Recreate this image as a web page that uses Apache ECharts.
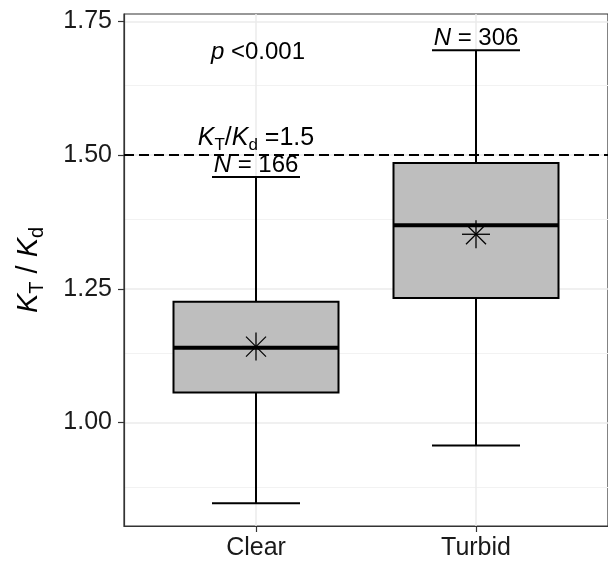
<!DOCTYPE html>
<html>
<head>
<meta charset="utf-8">
<script src="https://cdn.jsdelivr.net/npm/echarts@6/dist/echarts.min.js"></script>
<style>
  html, body { margin: 0; padding: 0; background: #ffffff; }
  #chart { width: 608px; height: 562px; }
</style>
</head>
<body>
<div id="chart"></div>
<script>
// Box-plot summary of the KT/Kd ratio for clear and turbid water
const categories = ['Clear', 'Turbid'];
const lowerWhisker = [0.849, 0.957];
const lowerQuartile = [1.056, 1.233];
const medianValue = [1.140, 1.369];
const upperQuartile = [1.226, 1.485];
const upperWhisker = [1.459, 1.696];
const meanValue = [1.142, 1.352];
const sampleSize = [166, 306];
const ratioThreshold = 1.5;
const yTickValues = [1.00, 1.25, 1.50, 1.75];
const yMinorValues = [0.875, 1.125, 1.375, 1.625];
const pValueText = '<0.001';

const FONT = '"Liberation Sans", Arial, Helvetica, sans-serif';
const BOX_WIDTH = 0.75;
const CAP_WIDTH = 0.4;
const INK = '#000000';

const boxRows = categories.map((c, i) => [
  i + 1, lowerWhisker[i], lowerQuartile[i], medianValue[i],
  upperQuartile[i], upperWhisker[i], meanValue[i], sampleSize[i]
]);

function line(x1, y1, x2, y2, w) {
  return {
    type: 'line',
    shape: { x1, y1, x2, y2 },
    style: { stroke: INK, lineWidth: w, lineCap: 'butt' }
  };
}

function renderBox(params, api) {
  const x = api.value(0);
  const lw = api.coord([x, api.value(1)]);
  const q1 = api.coord([x, api.value(2)]);
  const md = api.coord([x, api.value(3)]);
  const q3 = api.coord([x, api.value(4)]);
  const uw = api.coord([x, api.value(5)]);
  const mn = api.coord([x, api.value(6)]);
  const n = api.value(7);
  const boxHalf = api.size([BOX_WIDTH / 2, 0])[0];
  const capHalf = api.size([CAP_WIDTH / 2, 0])[0];
  const cx = md[0];

  const children = [
    // whiskers and caps
    line(cx, uw[1], cx, q3[1], 2),
    line(cx, q1[1], cx, lw[1], 2),
    line(cx - capHalf, uw[1], cx + capHalf, uw[1], 2),
    line(cx - capHalf, lw[1], cx + capHalf, lw[1], 2),
    // box
    {
      type: 'rect',
      shape: { x: cx - boxHalf, y: q3[1], width: boxHalf * 2, height: q1[1] - q3[1] },
      style: { fill: '#BEBEBE', stroke: INK, lineWidth: 2 }
    },
    // median
    line(cx - boxHalf, md[1], cx + boxHalf, md[1], 4)
  ];

  // mean marker (asterisk)
  const r = 14, d = 10;
  const sw = 1.3;
  children.push(
    line(mn[0], mn[1] - r, mn[0], mn[1] + r, sw),
    line(mn[0] - r, mn[1], mn[0] + r, mn[1], sw),
    line(mn[0] - d, mn[1] - d, mn[0] + d, mn[1] + d, sw),
    line(mn[0] - d, mn[1] + d, mn[0] + d, mn[1] - d, sw)
  );

  // sample size above the upper cap
  children.push({
    type: 'text',
    x: cx,
    y: uw[1] - 12,
    style: {
      text: '{i|N}{n| = ' + n + '}',
      align: 'center',
      verticalAlign: 'middle',
      rich: {
        i: { fontFamily: FONT, fontSize: 24, fontStyle: 'italic', fill: INK },
        n: { fontFamily: FONT, fontSize: 24, fill: INK }
      }
    }
  });

  return { type: 'group', children };
}

function renderNotes(params, api) {
  const topVal = Math.max.apply(null, upperWhisker);
  const pPos = api.coord([1, topVal]);
  const tPos = api.coord([1, ratioThreshold]);
  return {
    type: 'group',
    children: [
      {
        type: 'text',
        x: pPos[0] + 2,
        y: pPos[1] + 2,
        style: {
          text: '{i|p}{n| ' + pValueText + '}',
          align: 'center',
          verticalAlign: 'middle',
          rich: {
            i: { fontFamily: FONT, fontSize: 24, fontStyle: 'italic', fill: INK },
            n: { fontFamily: FONT, fontSize: 24, fill: INK }
          }
        }
      },
      {
        type: 'text',
        x: tPos[0],
        y: tPos[1] - 17,
        style: {
          text: '{k|K}{s|T}{n|/}{k|K}{s|d}{n| =' + ratioThreshold.toFixed(1) + '}',
          align: 'center',
          verticalAlign: 'middle',
          rich: {
            k: { fontFamily: FONT, fontSize: 25, fontStyle: 'italic', fill: INK, lineHeight: 32 },
            n: { fontFamily: FONT, fontSize: 25, fill: INK, lineHeight: 32 },
            s: { fontFamily: FONT, fontSize: 17, fill: INK, lineHeight: 17, verticalAlign: 'bottom' }
          }
        }
      }
    ]
  };
}

const majorGrid = { color: '#EBEBEB', width: 1.5, type: 'solid' };
const minorGrid = { color: '#F2F2F2', width: 1, type: 'solid' };

const gridLines = []
  .concat(yMinorValues.map(v => ({ yAxis: v, lineStyle: minorGrid })))
  .concat(yTickValues.map(v => ({ yAxis: v, lineStyle: majorGrid })))
  .concat(categories.map((c, i) => ({ xAxis: i + 1, lineStyle: majorGrid })));

const chart = echarts.init(document.getElementById('chart'), null, { renderer: 'canvas' });

chart.setOption({
  animation: false,
  backgroundColor: '#ffffff',
  grid: {
    left: 124, top: 14, width: 497, height: 512,
    show: true, borderColor: '#333333', borderWidth: 1.2, backgroundColor: 'transparent'
  },
  xAxis: {
    type: 'value',
    min: 0.4, max: 2.6,
    axisLine: { show: true, lineStyle: { color: '#333333', width: 1.2 } },
    axisTick: { show: true, customValues: [1, 2], length: 6, lineStyle: { color: '#333333', width: 1.2 } },
    axisLabel: {
      customValues: [1, 2],
      formatter: v => categories[Math.round(v) - 1] || '',
      fontFamily: FONT, fontSize: 25, color: '#1a1a1a', margin: 10
    },
    splitLine: { show: false }
  },
  yAxis: {
    type: 'value',
    min: 0.8067, max: 1.7637,
    axisLine: { show: true, lineStyle: { color: '#333333', width: 1.2 } },
    axisTick: { show: true, customValues: yTickValues, length: 6, lineStyle: { color: '#333333', width: 1.2 } },
    axisLabel: {
      customValues: yTickValues,
      formatter: v => v.toFixed(2),
      fontFamily: FONT, fontSize: 25, color: '#1a1a1a', margin: 12
    },
    splitLine: { show: false }
  },
  graphic: [{
    type: 'text',
    x: 29, y: 270,
    rotation: Math.PI / 2,
    style: {
      text: '{k|K}{s|T}{n| / }{k|K}{s|d}',
      align: 'center',
      verticalAlign: 'middle',
      rich: {
        k: { fontFamily: FONT, fontSize: 29, fontStyle: 'italic', fill: INK, lineHeight: 36 },
        n: { fontFamily: FONT, fontSize: 29, fill: INK, lineHeight: 36 },
        s: { fontFamily: FONT, fontSize: 20, fill: INK, lineHeight: 20, verticalAlign: 'bottom' }
      }
    }
  }],
  series: [
    {
      type: 'line',
      data: [],
      z: 0,
      silent: true,
      markLine: {
        z: 0,
        silent: true, symbol: 'none', label: { show: false },
        data: gridLines
      }
    },
    {
      type: 'custom',
      z: 3,
      silent: true,
      renderItem: renderBox,
      data: boxRows,
      clip: false
    },
    {
      type: 'line',
      data: [],
      z: 4,
      silent: true,
      markLine: {
        z: 4,
        silent: true, symbol: 'none', label: { show: false },
        data: [{ yAxis: ratioThreshold, lineStyle: { color: INK, width: 2, type: [10, 5] } }]
      }
    },
    {
      type: 'custom',
      z: 5,
      silent: true,
      renderItem: renderNotes,
      data: [[0]],
      clip: false
    }
  ]
});
</script>
</body>
</html>
